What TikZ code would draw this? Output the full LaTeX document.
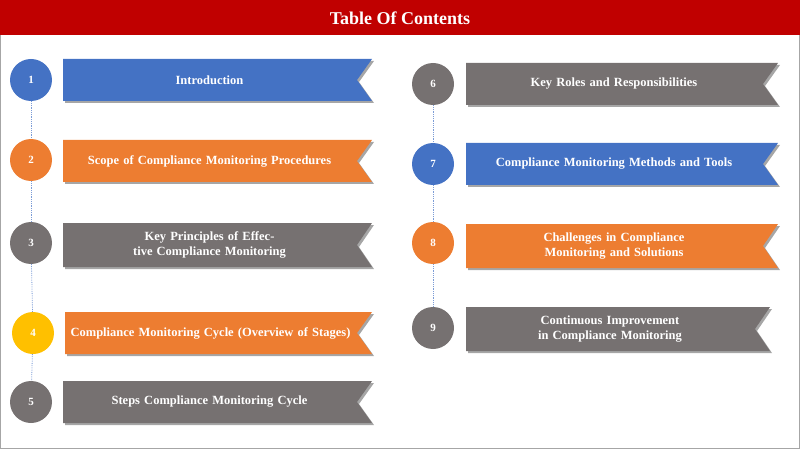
\documentclass[tikz,border=0pt]{standalone}
\usepackage{fontspec}
\setmainfont{Liberation Serif}
\definecolor{cblue}{HTML}{4472C4}
\definecolor{corange}{HTML}{ED7D31}
\definecolor{cgray}{HTML}{767171}
\definecolor{cyellow}{HTML}{FFC000}
\definecolor{cred}{HTML}{C00000}
\begin{document}
\begin{tikzpicture}[x=1pt,y=-1pt,
  num/.style={circle,minimum size=42pt,inner sep=0pt,text=white,font=\bfseries\fontsize{11}{13}\selectfont},
  lbl/.style={text=white,font=\bfseries\fontsize{12.5}{15}\selectfont,align=center,text width=260pt},
  link/.style={cblue!70,densely dotted,thick}]
\useasboundingbox (0,0) rectangle (800,449);
\draw[gray!70] (0.5,0.5) rectangle (799.5,448.5);
\fill[cred] (0,0) rectangle (800,35);
\node[text=white,font=\bfseries\fontsize{18}{22}\selectfont] (title) at (400,18) {Table Of Contents};
\newcommand\ribbon[6]{% x1 x2 ytop ybot color name
  \fill[black!35] (#1+2,#3+2) -- (#2+2,#3+2) -- (#2-13,{(#3+#4)/2+2}) -- (#2+2,#4+2) -- (#1+2,#4+2) -- cycle;
  \fill[#5] (#1,#3) -- (#2,#3) -- (#2-15,{(#3+#4)/2}) -- (#2,#4) -- (#1,#4) -- cycle;
  \coordinate (#6) at ({(#1+#2)/2-8},{(#3+#4)/2});}
\ribbon{63}{372}{59}{101}{cblue}{r1}
\ribbon{63}{372}{140}{182}{corange}{r2}
\ribbon{63}{372}{223}{267}{cgray}{r3}
\ribbon{65}{372}{312}{354}{corange}{r4}
\ribbon{63}{372}{381}{423}{cgray}{r5}
\ribbon{466}{778}{63}{105}{cgray}{r6}
\ribbon{466}{778}{143}{185}{cblue}{r7}
\ribbon{466}{778}{224}{268}{corange}{r8}
\ribbon{466}{770}{307}{351}{cgray}{r9}
\node[num,fill=cblue] (c1) at (31,80) {1};
\node[num,fill=corange] (c2) at (31,160) {2};
\node[num,fill=cgray] (c3) at (31,243) {3};
\node[num,fill=cyellow] (c4) at (33,333) {4};
\node[num,fill=cgray] (c5) at (31,402) {5};
\node[num,fill=cgray] (c6) at (433,84) {6};
\node[num,fill=cblue] (c7) at (433,164) {7};
\node[num,fill=corange] (c8) at (433,243) {8};
\node[num,fill=cgray] (c9) at (433,328) {9};
\draw[link] (c1) -- (c2); \draw[link] (c2) -- (c3); \draw[link] (c3) -- (c4); \draw[link] (c4) -- (c5);
\draw[link] (c6) -- (c7); \draw[link] (c7) -- (c8); \draw[link] (c8) -- (c9);
\node[lbl] (t1) at (r1) {Introduction};
\node[lbl,text width=290pt] (t2) at (r2) {Scope of Compliance Monitoring Procedures};
\node[lbl] (t3) at (r3) {Key Principles of Effective Compliance Monitoring};
\node[lbl,text width=280pt] (t4) at (r4) {Compliance Monitoring Cycle (Overview of Stages)};
\node[lbl] (t5) at (r5) {Steps Compliance Monitoring Cycle};
\node[lbl] (t6) at (r6) {Key Roles and Responsibilities};
\node[lbl,text width=290pt] (t7) at (r7) {Compliance Monitoring Methods and Tools};
\node[lbl,text width=280pt] (t8) at (r8) {Challenges in Compliance Monitoring and Solutions};
\node[lbl,text width=250pt] (t9) at (r9) {Continuous Improvement in Compliance Monitoring};
\end{tikzpicture}
\end{document}
